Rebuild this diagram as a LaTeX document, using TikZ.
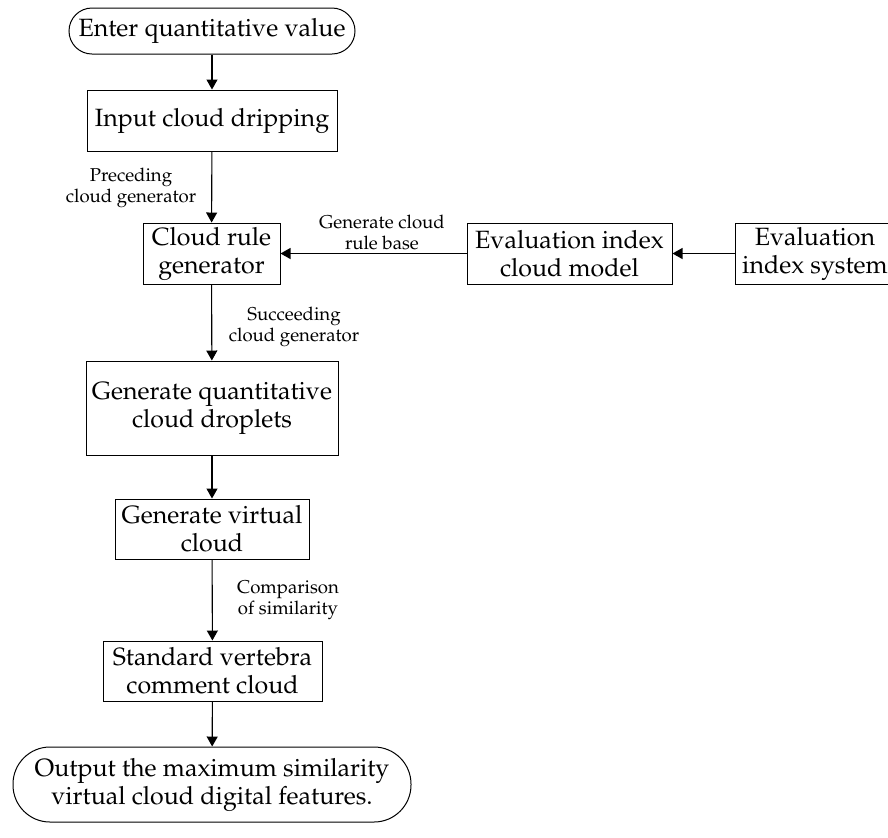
\documentclass[tikz,border=0pt]{standalone}
\usepackage[T1]{fontenc}
\usepackage{mathpazo}
\usetikzlibrary{arrows.meta, positioning}

\begin{document}
\begin{tikzpicture}[x=0.5pt, y=-0.5pt,
  box/.style={draw, line width=0.5pt, inner sep=0pt, align=center,
    font=\fontsize{12.5}{14}\selectfont},
  term/.style={box, rounded corners=#1},
  note/.style={align=center, inner sep=0pt, font=\fontsize{9.3}{10.5}\selectfont},
  arrow/.style={-{Triangle[length=5pt, width=5.5pt]}, line width=0.55pt}]
  \useasboundingbox (0,0) rectangle (888,837);
  % main column
  \node[term=11.5pt, minimum width=143pt, minimum height=23pt] (enter) at (212,31) {Enter quantitative value};
  \node[box, minimum width=125pt, minimum height=30.5pt] (input) at (212,120.5) {Input cloud dripping};
  \node[box, minimum width=68.5pt, minimum height=30.5pt] (rule) at (211.5,253.5) {Cloud rule\\generator};
  \node[box, minimum width=126pt, minimum height=47pt] (drops) at (212,408) {Generate quantitative\\cloud droplets};
  \node[box, minimum width=97pt, minimum height=30pt] (virt) at (212,529) {Generate virtual\\cloud};
  \node[box, minimum width=109.5pt, minimum height=30pt] (std) at (212.5,671) {Standard vertebra\\comment cloud};
  \node[term=18.5pt, minimum width=199pt, minimum height=37.5pt] (out) at (212,784.5) {Output the maximum similarity\\virtual cloud digital features.};
  % right branch
  \node[box, minimum width=102.5pt, minimum height=30.5pt] (model) at (569.5,253.5) {Evaluation index\\cloud model};
  \node[box, minimum width=80pt, minimum height=30.5pt] (sys) at (815,253.5) {Evaluation\\index system};
  % labels
  \node[note] (lprec) at (131,188) {Preceding\\cloud generator};
  \node[note] (lbase) at (382,232) {Generate cloud\\rule base};
  \node[note] (lsucc) at (294,327) {Succeeding\\cloud generator};
  \node[note] (lcomp) at (288,600) {Comparison\\of similarity};
  % connectors
  \draw[arrow] (enter) -- (input);
  \draw[arrow] (input) -- (rule);
  \draw[arrow] (rule) -- (drops);
  \draw[arrow] (drops) -- (virt);
  \draw[arrow] (virt) -- (std);
  \draw[arrow] (std) -- (out);
  \draw[arrow] (sys) -- (model);
  \draw[arrow] (model) -- (rule);
\end{tikzpicture}
\end{document}
